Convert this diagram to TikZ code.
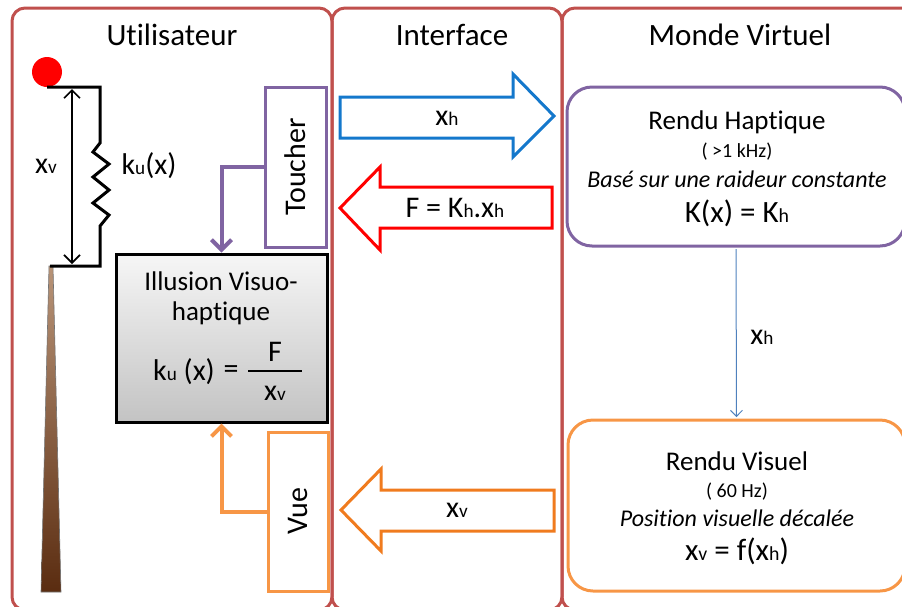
\documentclass[tikz,border=0pt]{standalone}
\usepackage{fontspec}
\setmainfont{Carlito}[Ligatures={NoCommon}]
\usetikzlibrary{arrows.meta}

\definecolor{panelred}{HTML}{C0504D}
\definecolor{purp}{HTML}{8064A2}
\definecolor{vueor}{HTML}{F79646}
\definecolor{flowblue}{HTML}{1478CC}
\definecolor{flowred}{HTML}{FF0000}
\definecolor{floworange}{HTML}{F07B1E}
\definecolor{linkblue}{HTML}{4F81BD}
\definecolor{barlight}{HTML}{D09060}
\definecolor{bartop}{HTML}{B89478}
\definecolor{bardark}{HTML}{5A2C10}

% small index letters sitting on the baseline
\newcommand\lo[1]{\scalebox{0.64}{#1}}
\newcommand\fs[1]{\fontsize{#1}{#1}\selectfont}

\tikzset{
  panel/.style={draw=panelred, line width=3pt, rounded corners=13pt},
  title/.style={font=\fs{31}, inner sep=0pt},
  lbl/.style={font=\fs{30}, inner sep=0pt},
  sidebox/.style={draw, line width=3pt, rotate=90, font=\fs{30}, inner sep=0pt},
  feed/.style={line width=4pt, -{Straight Barb[length=10pt,width=20pt]}},
  blockarrow/.style={line width=3pt, fill=white, line join=miter},
  render/.style={draw, line width=3pt, rounded corners=25pt, inner sep=0pt},
  rtitle/.style={font=\fs{27}, inner sep=0pt},
  rfreq/.style={font=\fs{20}, inner sep=0pt},
  rnote/.style={font=\fs{24}\itshape, inner sep=0pt},
  rform/.style={font=\fs{31}, inner sep=0pt},
  illtxt/.style={font=\fs{27}, inner sep=0pt},
  illform/.style={font=\fs{30}, inner sep=0pt},
}

\begin{document}
\begin{tikzpicture}[x=1pt, y=-1pt]
\useasboundingbox (0,0) rectangle (902,606);
\clip (0,0) rectangle (902,606);

% three panels
\draw[panel] (12,8) rectangle (332,610);
\draw[panel] (332,8) rectangle (562,610);
\draw[panel] (562,8) rectangle (916,610);

\node[title] (tUser) at (172,35) {Utilisateur};
\node[title] (tIface) at (452,35) {Interface};
\node[title] (tWorld) at (740,35) {Monde Virtuel};

% ---- user: finger on a spring ----
\shade[top color=bartop, middle color=barlight, bottom color=bardark]
  (49,266) -- (53,266) -- (61,592) -- (41,592) -- cycle;
\draw[black!55, line width=0.6pt]
  (49,266) -- (53,266) -- (61,592) -- (41,592) -- cycle;

\node[circle, fill=flowred, minimum size=30, inner sep=0pt] (tip) at (47,72) {};
\coordinate (sTop) at (47,87);
\coordinate (sBot) at (50,266);
\draw[line width=3pt, line join=miter]
  (sTop) -- (100,87) -- (100,143) -- (93,152) -- (109,164) -- (93,177)
  -- (109,190) -- (93,203) -- (109,215) -- (100,226) -- (100,266) -- (sBot);
\draw[line width=1.6pt,
  {Straight Barb[length=8pt,width=16pt]}-{Straight Barb[length=8pt,width=16pt]}]
  (72,89) -- (72,264);
\node[lbl] (xvL) at (46,166) {x\lo{v}};
\node[lbl] (kuL) at (149,166) {k\lo{u}(x)};

% ---- illusion block ----
\node[draw, line width=3pt, top color=gray!7, bottom color=gray!47,
      minimum width=211, minimum height=168, inner sep=0pt] (illusion) at (221.5,338) {};
\node[illtxt] (ill1) at (221,281) {Illusion Visuo-};
\node[illtxt] (ill2) at (221,313) {haptique};
\node[illform] (ill3) at (184,372) {k\lo{u} (x)};
\node[illform] (ill4) at (231,372) {=};
\node[illform] (num) at (275,352) {F};
\node[illform] (den) at (275,393) {x\lo{v}};
\draw[line width=1.5pt] (248,371) -- (302,371);

% ---- sense channels ----
\node[sidebox, draw=purp, minimum width=160, minimum height=61] (toucher) at (295.5,167) {Toucher};
\node[sidebox, draw=vueor, minimum width=159, minimum height=60] (vue) at (298,511.5) {Vue};
\draw[feed, purp] (toucher.north) -| (illusion.north);
\draw[feed, vueor] (vue.north) -| (illusion.south);

% ---- interface block arrows ----
\draw[blockarrow, draw=flowblue]
  (340,97) -- (513,97) -- (513,74) -- (554,116) -- (513,157) -- (513,138) -- (340,138) -- cycle;
\node[lbl] (aPos) at (447,118) {x\lo{h}};

\draw[blockarrow, draw=flowred]
  (552,187) -- (380,187) -- (380,167) -- (340,208) -- (380,250) -- (380,228) -- (552,228) -- cycle;
\node[lbl] (aForce) at (455,208) {F = K\lo{h}.x\lo{h}};

\draw[blockarrow, draw=floworange]
  (554,490) -- (381,490) -- (381,469) -- (341,510) -- (381,551) -- (381,531) -- (554,531) -- cycle;
\node[lbl] (aVis) at (457,510) {x\lo{v}};

% ---- virtual world ----
\node[render, draw=purp, minimum width=338, minimum height=159] (haptic) at (736,166.5) {};
\node[rtitle] (h1) at (737,122) {Rendu Haptique};
\node[rfreq] (h2) at (737,152) {( >1 kHz)};
\node[rnote] (h3) at (737,179) {Basé sur une raideur constante};
\node[rform] (h4) at (737,213) {K(x) = K\lo{h}};

\node[render, draw=vueor, minimum width=337, minimum height=171] (visuel) at (736.5,505.5) {};
\node[rtitle] (v1) at (737,461) {Rendu Visuel};
\node[rfreq] (v2) at (737,492) {( 60 Hz)};
\node[rnote] (v3) at (737,518) {Position visuelle décalée};
\node[rform] (v4) at (737,551) {x\lo{v} = f(x\lo{h})};

\draw[linkblue, line width=1pt, shorten >=1.5pt, shorten <=1.5pt,
      -{Straight Barb[length=6pt,width=12pt]}] (haptic.south) -- (visuel.north);
\node[lbl] (linkL) at (762,337) {x\lo{h}};
\end{tikzpicture}
\end{document}
